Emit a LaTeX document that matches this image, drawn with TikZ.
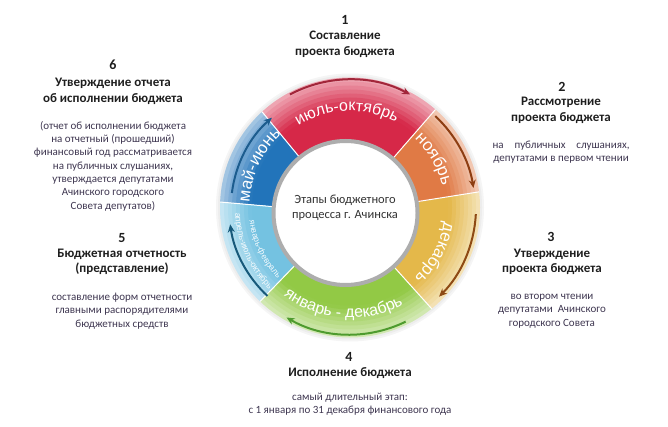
\documentclass[tikz,border=0pt]{standalone}
\usepackage{fontspec}
\setmainfont{Carlito}
\newfontfamily\ringfont{Liberation Sans}
\usetikzlibrary{arrows.meta,decorations.text,calc}

\definecolor{segred}{HTML}{D62848}
\definecolor{segorange}{HTML}{E07A45}
\definecolor{segyellow}{HTML}{E4B84A}
\definecolor{seggreen}{HTML}{92C945}
\definecolor{seglblue}{HTML}{74C2E1}
\definecolor{segblue}{HTML}{2274BA}
\definecolor{arrred}{HTML}{A2263A}
\definecolor{arrorange}{HTML}{8E3E12}
\definecolor{arryellow}{HTML}{8E4A14}
\definecolor{arrgreen}{HTML}{4E9B2E}
\definecolor{arrlblue}{HTML}{17597A}
\definecolor{arrblue}{HTML}{1C5C8E}
\definecolor{headcol}{HTML}{1E1E1E}
\definecolor{bodycol}{HTML}{3E3650}
\definecolor{centcol}{HTML}{333333}

\newcommand\rlab{\ringfont\fontsize{16}{18}\selectfont\color{white}}
\newcommand\rlabbig{\ringfont\fontsize{17}{19}\selectfont\color{white}}
\newcommand\rlabsmall{\ringfont\fontsize{8.5}{10}\selectfont\color{white!92!seglblue}}

\newcommand\ringseg[3]{%
  \begin{scope}
    \clip (IC) -- ($(IC)+(#2:220)$) arc[start angle=#2, end angle=#3, radius=220] -- cycle;
    \foreach \k in {0,...,14}{%
      \pgfmathtruncatemacro\p{min(100,42+\k*8)}%
      \fill[#1!\p!white] (OC) circle[radius=130-\k*4];
    }
  \end{scope}}

\begin{document}
\begin{tikzpicture}[x=1pt,y=1pt,
  num/.style={font=\bfseries\fontsize{14}{16}\selectfont, text=headcol, inner sep=0pt},
  head/.style={font=\bfseries\fontsize{13}{15.5}\selectfont, text=headcol, align=center, inner sep=0pt},
  body/.style={font=\fontsize{11}{13.3}\selectfont, text=bodycol, align=center, inner sep=0pt},
  centertext/.style={font=\fontsize{12.5}{15}\selectfont, text=centcol, align=center, inner sep=0pt},
  ringarrow/.style={line width=2pt, -{Stealth[length=8pt,width=7pt,inset=2.5pt]}}
]
\useasboundingbox (0,0) rectangle (668,426);
\coordinate (OC) at (350,218.5);
\coordinate (IC) at (345.5,213);

% soft shadow
\fill[black!4] (OC) circle[radius=134];
\fill[black!7] (OC) circle[radius=132];

% ring segments
\ringseg{segred}{49}{129.5}
\ringseg{segblue}{129.5}{175}
\ringseg{seglblue}{175}{226}
\ringseg{seggreen}{226}{312}
\ringseg{segyellow}{312}{369}
\ringseg{segorange}{9}{49}

% separators
\begin{scope}
  \clip (OC) circle[radius=130];
  \foreach \a in {49,129.5,175,226,312,9}
    \draw[white, line width=1pt] (IC) -- ($(IC)+(\a:160)$);
\end{scope}

% inner circle
\draw[line width=4pt, draw=black!32, fill=white] (IC) circle[radius=72];
\node[centertext] (ct) at (345,218.5) {Этапы бюджетного\\процесса г. Ачинска};

% arrows
\draw[ringarrow, arrred] ([shift={(118:128)}]OC) arc[start angle=118, end angle=62, radius=128];
\draw[ringarrow, arrorange] ([shift={(47:125)}]OC) arc[start angle=47, end angle=9, radius=125];
\draw[ringarrow, arryellow] ([shift={(-3:126)}]OC) arc[start angle=-3, end angle=-45, radius=126];
\draw[ringarrow, arrgreen] ([shift={(-64:127)}]OC) arc[start angle=-64, end angle=-120, radius=127];
\draw[ringarrow, arrlblue] ([shift={(227:121)}]OC) arc[start angle=227, end angle=188, radius=121];
\draw[ringarrow, arrblue] ([shift={(173:119)}]OC) arc[start angle=173, end angle=131, radius=119];

% ring labels
\path[decorate, decoration={text along path, text align=center, text={|\rlab|июль-октябрь}}]
  ([shift={(152:96.5)}]OC) arc[start angle=152, end angle=32, radius=96.5];
\path[decorate, decoration={text along path, text align=center, text={|\rlabbig|ноябрь}}]
  ([shift={(62:94.5)}]OC) arc[start angle=62, end angle=-2, radius=94.5];
\path[decorate, decoration={text along path, text align=center, text={|\rlabbig|декабрь}}]
  ([shift={(4:95)}]OC) arc[start angle=4, end angle=-60, radius=95];
\path[decorate, decoration={text along path, text align=center, text={|\rlabbig|май-июнь}}]
  ([shift={(187:100.5)}]OC) arc[start angle=187, end angle=123, radius=100.5];
\path[decorate, decoration={text along path, text align=center, text={|\rlab|январь - декабрь}}]
  ([shift={(214:110.5)}]OC) arc[start angle=214, end angle=318, radius=110.5];
\path[decorate, decoration={text along path, text align=center, text={|\rlabsmall|январь-февраль}}]
  ([shift={(172:101.5)}]OC) arc[start angle=172, end angle=240, radius=101.5];
\path[decorate, decoration={text along path, text align=center, text={|\rlabsmall|апрель-июль-октябрь}}]
  ([shift={(170:115)}]OC) arc[start angle=170, end angle=238, radius=115];

% stage 1
\node[num] (n1) at (345,406) {1};
\node[head] (h1) at (345,381.5) {Составление\\проекта бюджета};
% stage 2
\node[num] (n2) at (562,339) {2};
\node[head] (h2) at (561,315.5) {Рассмотрение\\проекта бюджета};
\node[body] (b2) at (561,273.5) {\makebox[137pt][s]{на публичных слушаниях,}\\депутатами в первом чтении};
% stage 3
\node[num] (n3) at (551,189) {3};
\node[head] (h3) at (552,164) {Утверждение\\проекта бюджета};
\node[body] (b3) at (552,115) {во втором чтении\\депутатами~~Ачинского\\городского Совета};
% stage 4
\node[num] (n4) at (349,69) {4};
\node[head] (h4) at (350,53) {Исполнение бюджета};
\node[body] (b4) at (350,21.5) {самый длительный этап:\\с 1 января по 31 декабря финансового года};
% stage 5
\node[num] (n5) at (122,188) {5};
\node[head] (h5) at (122,164) {Бюджетная отчетность\\(представление)};
\node[body] (b5) at (122,115) {составление форм отчетности\\главными распорядителями\\бюджетных средств};
% stage 6
\node[num] (n6) at (113,361) {6};
\node[head] (h6) at (113,334.5) {Утверждение отчета\\об исполнении бюджета};
\node[body] (b6) at (113,260) {(отчет об исполнении бюджета\\на отчетный (прошедший)\\финансовый год рассматривается\\на публичных слушаниях,\\утверждается депутатами\\Ачинского городского\\Совета депутатов)};
\end{tikzpicture}
\end{document}
